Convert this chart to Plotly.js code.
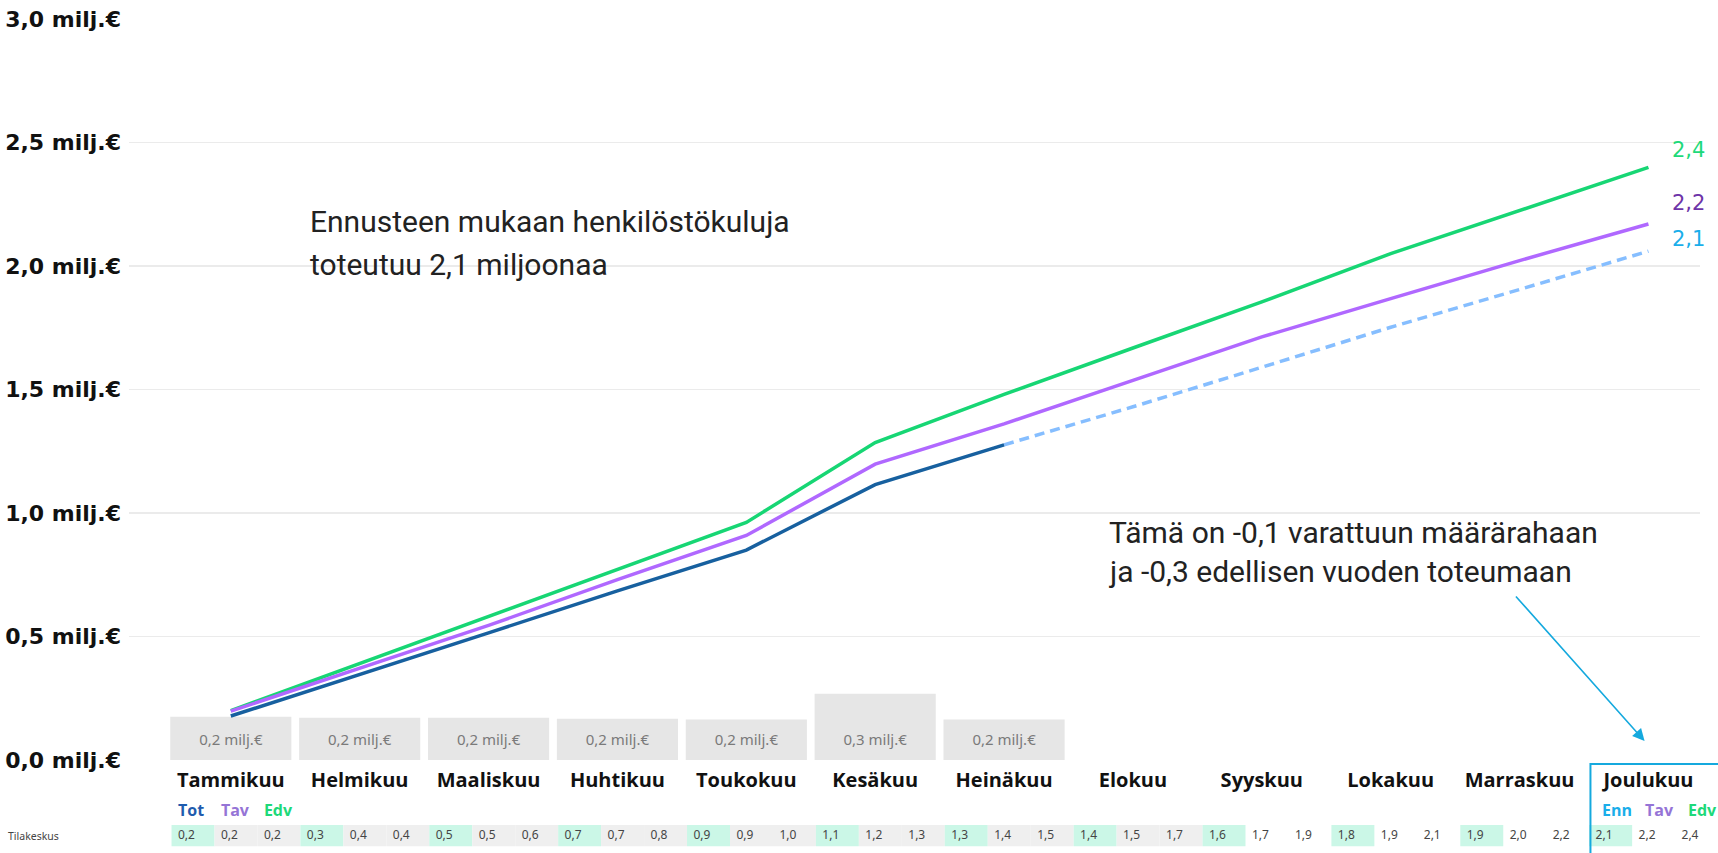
<!DOCTYPE html>
<html>
<head>
<meta charset="utf-8">
<script src="https://cdn.plot.ly/plotly-3.0.1.min.js"></script>
<style>html,body{margin:0;padding:0;background:#fff;}#chart{width:1718px;height:853px;}</style>
</head>
<body>
<div id="chart"></div>
<script>
// ---------- data ----------
const months = ['Tammikuu','Helmikuu','Maaliskuu','Huhtikuu','Toukokuu','Kesäkuu','Heinäkuu','Elokuu','Syyskuu','Lokakuu','Marraskuu','Joulukuu'];
// cumulative, milj.€
const toteuma = [0.178, 0.345, 0.515, 0.685, 0.850, 1.115, 1.276];                       // Tot
const ennuste = [null, null, null, null, null, null, 1.276, 1.43, 1.59, 1.752, 1.905, 2.06]; // Enn
const talousarvio = [0.198, 0.370, 0.545, 0.730, 0.909, 1.198, 1.361, 1.537, 1.713, 1.868, 2.022, 2.17]; // Tav
const edellinen = [0.200, 0.390, 0.580, 0.770, 0.962, 1.285, 1.480, 1.668, 1.855, 2.050, 2.224, 2.399]; // Edv
// monthly costs (bars), milj.€
const kuukausi = [0.175, 0.171, 0.171, 0.167, 0.164, 0.268, 0.164];
// table row "Tilakeskus"
const tableTot = [0.2, 0.3, 0.5, 0.7, 0.9, 1.1, 1.3, 1.4, 1.6, 1.8, 1.9, 2.1];
const tableTav = [0.2, 0.4, 0.5, 0.7, 0.9, 1.2, 1.4, 1.5, 1.7, 1.9, 2.0, 2.2];
const tableEdv = [0.2, 0.4, 0.6, 0.8, 1.0, 1.3, 1.5, 1.7, 1.9, 2.1, 2.2, 2.4];
const headersStart = ['Tot', 'Tav', 'Edv'];
const headersEnd = ['Enn', 'Tav', 'Edv'];
const rowLabel = 'Tilakeskus';
const yTicks = [0, 0.5, 1.0, 1.5, 2.0, 2.5, 3.0];
const unit = ' milj.€';
const note1 = ['Ennusteen mukaan henkilöstökuluja', 'toteutuu 2,1 miljoonaa'];
const note2 = ['Tämä on -0,1 varattuun määrärahaan', 'ja -0,3 edellisen vuoden toteumaan'];
const lastActualMonth = 'Elokuu'; // table cells shaded grey up to this month

// ---------- styles ----------
const C = {
  green: '#17d674', purple: '#b068ff', blue: '#17609f', fc: '#86beff',
  lblGreen: '#1ed97a', lblPurple: '#6e34a8', lblBlue: '#1aaeea',
  hdrTot: '#1f5cae', hdrTav: '#9574d6', hdrEdv: '#1ed97a', hdrEnn: '#1aaeea',
  accent: '#15a9de', bar: '#e6e6e6', cellHl: '#cbf7e7', cellGrey: '#efefef'
};
const xRange = [-0.79, 11.4];
const idx = months.map((_, i) => i);
const fmt = v => v.toFixed(1).replace('.', ',');
const toPaperX = v => (v - xRange[0]) / (xRange[1] - xRange[0]);

// table geometry (in category units)
const cellW = 1 / 3;
const cellStart = -0.46;
const pad = 0.05;
const greyUntil = months.indexOf(lastActualMonth);

const cellX = [], cellC = [], txtX = [], txtT = [];
months.forEach((m, i) => {
  const vals = [tableTot[i], tableTav[i], tableEdv[i]];
  vals.forEach((v, j) => {
    const left = i + cellStart + j * cellW;
    cellX.push(left);
    cellC.push(j === 0 ? C.cellHl : (i <= greyUntil ? C.cellGrey : 'rgba(0,0,0,0)'));
    txtX.push(left + pad);
    txtT.push(fmt(v));
  });
});
const hdrX = [], hdrT = [], hdrC = [];
headersStart.forEach((h, j) => { hdrX.push(0 + cellStart + j * cellW + pad); hdrT.push(h); hdrC.push([C.hdrTot, C.hdrTav, C.hdrEdv][j]); });
headersEnd.forEach((h, j) => { const k = months.length - 1; hdrX.push(k + cellStart + j * cellW + pad + 0.05); hdrT.push(h); hdrC.push([C.hdrEnn, C.hdrTav, C.hdrEdv][j]); });

const barX = idx.slice(0, kuukausi.length);
const traces = [
  { type: 'bar', x: barX, y: kuukausi, width: 0.94, offset: -0.47, marker: { color: C.bar }, hoverinfo: 'skip' },
  { type: 'scatter', mode: 'text', x: barX, y: barX.map(() => 0.077), text: kuukausi.map(v => fmt(v) + unit),
    textposition: 'middle center', textfont: { family: 'Noto Sans', size: 15, color: '#7a7a7a' }, hoverinfo: 'skip' },
  { type: 'scatter', mode: 'lines', x: idx, y: edellinen, line: { color: C.green, width: 3.5 }, hoverinfo: 'skip' },
  { type: 'scatter', mode: 'lines', x: idx, y: talousarvio, line: { color: C.purple, width: 3.5 }, hoverinfo: 'skip' },
  { type: 'scatter', mode: 'lines', x: idx, y: ennuste, line: { color: C.fc, width: 3.5, dash: '10px,6px' }, hoverinfo: 'skip' },
  { type: 'scatter', mode: 'lines', x: idx.slice(0, toteuma.length), y: toteuma, line: { color: C.blue, width: 3.5 }, hoverinfo: 'skip' },
  // table cells
  { type: 'bar', xaxis: 'x', yaxis: 'y2', x: cellX, y: cellX.map(() => 0.235), base: 0.075, width: cellW, offset: 0,
    marker: { color: cellC, line: { width: 0 } }, hoverinfo: 'skip' },
  { type: 'scatter', mode: 'text', xaxis: 'x', yaxis: 'y2', x: txtX, y: txtX.map(() => 0.19), text: txtT, cliponaxis: false,
    textposition: 'middle right', textfont: { family: 'Noto Sans', size: 12, color: '#454545' }, hoverinfo: 'skip' },
  { type: 'scatter', mode: 'text', xaxis: 'x', yaxis: 'y2', x: hdrX, y: hdrX.map(() => 0.46), text: hdrT, cliponaxis: false,
    textposition: 'middle right', textfont: { family: 'Open Sans', size: 16, weight: 700, color: hdrC }, hoverinfo: 'skip' }
];

const annFont = { family: 'Roboto', size: 30, color: '#222' };
const annotations = [];
note1.forEach((t, i) => annotations.push({ x: 0.6, y: [2.181, 2.007][i], xref: 'x', yref: 'y', text: t, showarrow: false, xanchor: 'left', yanchor: 'middle', font: annFont }));
note2.forEach((t, i) => annotations.push({ x: 6.8, y: [0.921, 0.765][i], xref: 'x', yref: 'y', text: t, showarrow: false, xanchor: 'left', yanchor: 'middle', font: annFont }));
annotations.push({ x: 10.97, y: 0.077, xref: 'x', yref: 'y', ax: -130, ay: -146, axref: 'pixel', ayref: 'pixel', text: '', showarrow: true,
  arrowhead: 2, arrowsize: 1.5, arrowwidth: 1.6, arrowcolor: C.accent, standoff: 0 });
const last = months.length - 1;
[[edellinen[last], C.lblGreen, 17], [talousarvio[last], C.lblPurple, 21], [ennuste[last], C.lblBlue, 12]].forEach(([v, col, ys]) => {
  annotations.push({ x: last, y: v, xref: 'x', yref: 'y', text: fmt(v), showarrow: false, xanchor: 'left', yanchor: 'middle',
    xshift: 22, yshift: ys, font: { family: 'DejaVu Sans', size: 21, color: col } });
});
annotations.push({ x: -0.0786, y: 0.19, xref: 'paper', yref: 'y2', text: rowLabel, showarrow: false, xanchor: 'left', yanchor: 'middle',
  font: { family: 'Noto Sans', size: 10.5, color: '#444' } });

const layout = {
  width: 1718, height: 853,
  margin: { l: 129, r: 18, t: 19, b: 0 },
  paper_bgcolor: '#fff', plot_bgcolor: 'rgba(0,0,0,0)',
  separators: ', ',
  showlegend: false,
  barmode: 'overlay',
  font: { family: 'Open Sans', color: '#222' },
  xaxis: { range: xRange, tickvals: idx, ticktext: months, showgrid: false, zeroline: false, showline: false, ticks: '',
    anchor: 'y', ticklabelstandoff: 6, tickfont: { family: 'Open Sans', size: 20, weight: 700, color: '#111' } },
  yaxis: { domain: [0.1115, 1], range: [0, 3], tickvals: yTicks, ticktext: yTicks.map(v => fmt(v) + unit),
    gridcolor: '#ebebeb', gridwidth: 1.5, zeroline: false, showline: false, ticks: '', ticklabelstandoff: 7,
    tickfont: { family: 'DejaVu Sans', size: 22, weight: 700, color: '#111' } },
  yaxis2: { domain: [0, 0.108], range: [0, 1], visible: false, anchor: 'x' },
  annotations: annotations,
  shapes: [{ type: 'rect', xref: 'paper', yref: 'paper', x0: toPaperX(last - 0.45), x1: 1.05, y0: -0.05, y1: 0.1067,
    line: { color: C.accent, width: 2 }, fillcolor: 'rgba(0,0,0,0)' }]
};

Plotly.newPlot('chart', traces, layout, { displayModeBar: false, staticPlot: true });
</script>
</body>
</html>
